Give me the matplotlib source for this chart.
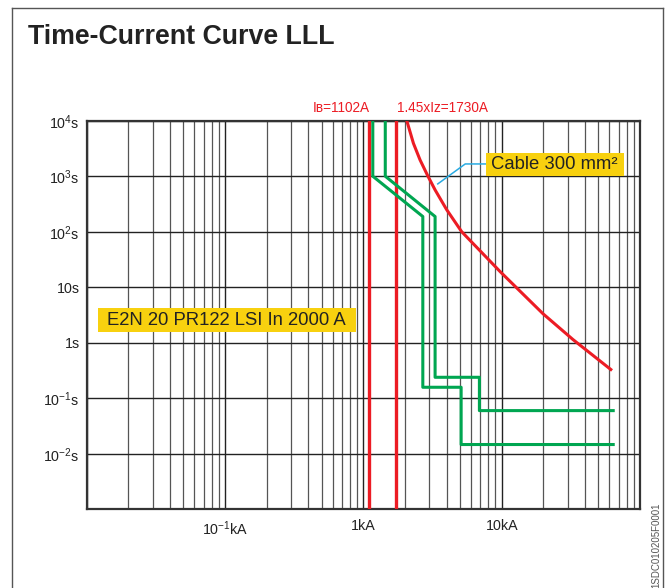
import matplotlib
matplotlib.use("Agg")
import matplotlib.pyplot as plt
from matplotlib.ticker import FixedLocator, FixedFormatter, LogLocator, NullFormatter, NullLocator
from matplotlib.patches import Rectangle

plt.rcParams['font.family'] = ['Liberation Sans', 'DejaVu Sans']
plt.rcParams['mathtext.fontset'] = 'custom'
plt.rcParams['mathtext.rm'] = 'Liberation Sans'
plt.rcParams['mathtext.it'] = 'Liberation Sans:italic'

# breaker trip band (current in kA, time in s)
brk_lo_i = [1.17, 1.17, 2.69, 2.69, 5.09, 5.09, 64]
brk_lo_t = [1e4, 1000, 188, 0.158, 0.158, 0.0147, 0.0147]
brk_hi_i = [1.44, 1.44, 3.30, 3.30, 6.90, 6.90, 64]
brk_hi_t = [1e4, 1000, 188, 0.239, 0.239, 0.060, 0.060]

# cable withstand curve
cable_i = [2.06, 2.30, 2.57, 2.93, 3.30, 4.0, 5.14, 9.73, 19.9, 32.8, 61.5]
cable_t = [1e4, 3925, 1963, 1000, 567, 250, 100, 19.2, 3.33, 1.14, 0.33]

# leader from cable curve to its label
lead_i = [3.45, 5.45, 7.71]
lead_t = [727, 1664, 1664]

ib = 1.102
iz145 = 1.73

xtick_vals = [0.1, 1, 10]
xtick_labels = ['$10^{-1}$kA', '1kA', '10kA']
ytick_vals = [1e-2, 1e-1, 1, 10, 1e2, 1e3, 1e4]
ytick_labels = ['$10^{-2}$s', '$10^{-1}$s', '1s', '10s', '$10^{2}$s', '$10^{3}$s', '$10^{4}$s']

red = '#ec1c24'
green = '#00a651'
yellow = '#f8d10f'

fig = plt.figure(figsize=(6.66, 5.88), dpi=100)
ax = fig.add_axes([0.1302, 0.1338, 0.8308, 0.6609])
ax.set_xscale('log')
ax.set_yscale('log')
ax.set_xlim(0.01, 100)
ax.set_ylim(1e-3, 1e4)

ax.xaxis.set_major_locator(FixedLocator(xtick_vals))
ax.xaxis.set_major_formatter(FixedFormatter(xtick_labels))
ax.xaxis.set_minor_locator(LogLocator(base=10, subs=[2, 3, 4, 5, 6, 7, 8, 9], numticks=20))
ax.xaxis.set_minor_formatter(NullFormatter())
ax.yaxis.set_major_locator(FixedLocator(ytick_vals))
ax.yaxis.set_major_formatter(FixedFormatter(ytick_labels))
ax.yaxis.set_minor_locator(NullLocator())
ax.tick_params(which='both', length=0, labelsize=10.3, colors='#222')
ax.tick_params(axis='x', pad=7)
ax.tick_params(axis='y', pad=5)

ax.set_axisbelow(True)
ax.grid(True, which='major', color='#222', lw=1.0)
ax.grid(True, which='minor', axis='x', color='#555', lw=0.9)
for v in [0.01, 100]:
    ax.axvline(v, color='#222', lw=1.0, zorder=0.5)
for s in ax.spines.values():
    s.set_color('#333')
    s.set_linewidth(1.6)

ax.axvline(ib, color=red, lw=2.4, zorder=3)
ax.axvline(iz145, color=red, lw=2.4, zorder=3)
ax.plot(brk_lo_i, brk_lo_t, color=green, lw=2.2, zorder=3)
ax.plot(brk_hi_i, brk_hi_t, color=green, lw=2.2, zorder=3)
ax.plot(cable_i, cable_t, color=red, lw=2.2, zorder=3)
ax.plot(lead_i, lead_t, color='#29abe2', lw=1.1, zorder=3)

# labels above the plot
trans = ax.get_xaxis_transform()
ax.text(ib * 1.01, 1.023, 'I\u0299=1102A', transform=trans, ha='right', va='baseline',
        color=red, fontsize=9.8, family=['Liberation Sans', 'DejaVu Sans'], clip_on=False)
ax.text(iz145 * 1.01, 1.023, '1.45xIz=1730A', transform=trans, ha='left', va='baseline',
        color=red, fontsize=9.8, clip_on=False)

# yellow labels
ax.add_patch(Rectangle((0.021, 0.457), 0.466, 0.060, transform=ax.transAxes,
                       facecolor=yellow, edgecolor='none', zorder=4))
ax.text(0.0372, 0.487, 'E2N 20 PR122 LSI In 2000 A', transform=ax.transAxes,
        ha='left', va='center', fontsize=13.3, color='#222', zorder=5)
ax.add_patch(Rectangle((0.7217, 0.858), 0.2494, 0.059, transform=ax.transAxes,
                       facecolor=yellow, edgecolor='none', zorder=4))
ax.text(0.730, 0.8875, 'Cable 300 mm\u00b2', transform=ax.transAxes,
        ha='left', va='center', fontsize=13.3, color='#222', zorder=5)

# title and frame
fig.text(28 / 666, 1 - 43.5 / 588, 'Time-Current Curve LLL', fontsize=19.3,
         fontweight='bold', color='#222', ha='left', va='baseline')
fig.add_artist(plt.Line2D([11.7 / 666, 11.7 / 666], [0, 1 - 8.3 / 588],
                          transform=fig.transFigure, color='#555', lw=1.0))
fig.add_artist(plt.Line2D([11.7 / 666, 663 / 666], [1 - 8.3 / 588, 1 - 8.3 / 588],
                          transform=fig.transFigure, color='#555', lw=1.0))
fig.add_artist(plt.Line2D([663 / 666, 663 / 666], [0, 1 - 8.3 / 588],
                          transform=fig.transFigure, color='#555', lw=1.0))
fig.text(656 / 666, 1 - 545 / 588, '1SDC010205F0001', rotation=90, fontsize=7,
         color='#555', ha='center', va='center')

fig.savefig('out.png', dpi=100)
